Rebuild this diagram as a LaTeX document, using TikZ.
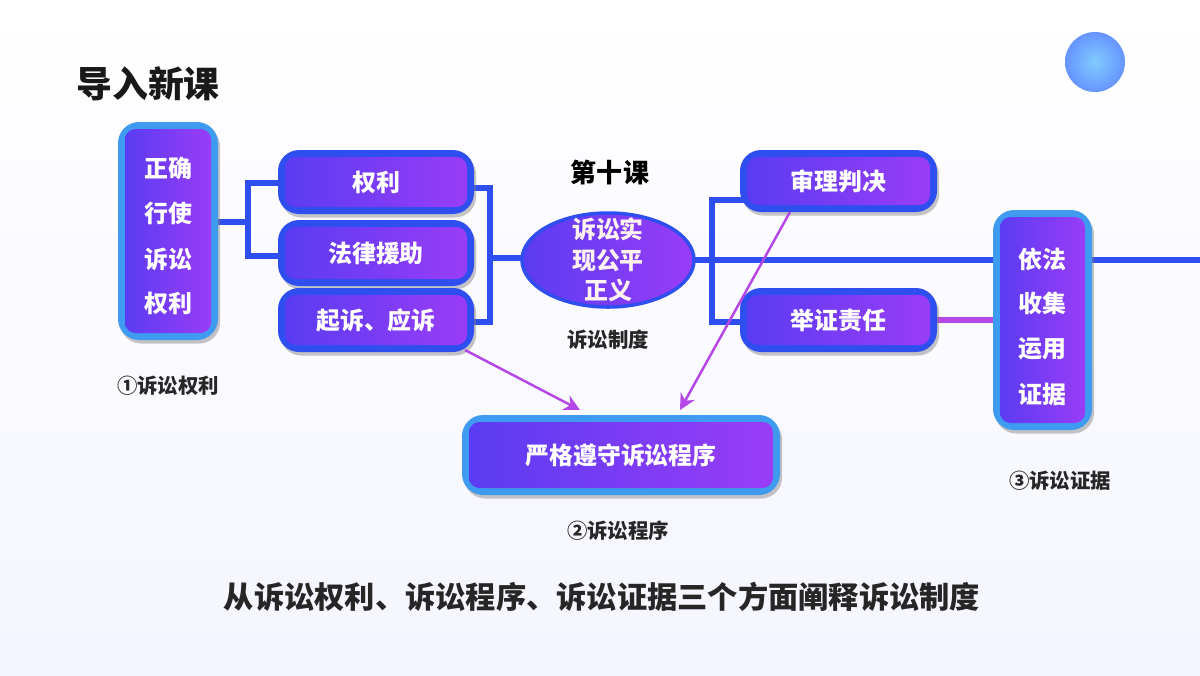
\documentclass[tikz,border=0pt]{standalone}
\usepackage{fontspec}
\setmainfont{Noto Sans CJK SC}
\usetikzlibrary{shadows,arrows.meta,calc}
\definecolor{pA}{HTML}{5A3CF2}
\definecolor{pB}{HTML}{9A3CF6}
\definecolor{bdr}{HTML}{2F4EEF}
\definecolor{lbdr}{HTML}{3F9BF0}
\definecolor{mag}{HTML}{B447E6}
\tikzset{
 outer/.style={rounded corners=6pt, fill=#1, drop shadow={shadow xshift=0.6pt,shadow yshift=-1pt,opacity=0.45}},
 inner/.style={rounded corners=3pt, left color=pA, right color=pB},
 txt/.style={text=white, font=\fontsize{6.8}{7.5}\selectfont\bfseries, align=center},
 lab/.style={font=\fontsize{5.8}{6.5}\selectfont\bfseries, text=black!85},
 conn/.style={draw=bdr, line width=1.5pt},
 arr/.style={draw=mag, line width=0.7pt, -{Stealth[length=4.5pt,width=4.5pt]}}
}
\newcommand{\mybox}[6]{% name, x1,y1,x2,y2, border color
 \fill[outer=#6] (#2,#3) rectangle (#4,#5);
 \path[inner] ($(#2,#3)+(7,7)$) rectangle ($(#4,#5)+(-7,-7)$);
 \coordinate (#1) at ($(#2,#3)!0.5!(#4,#5)$);
}
\begin{document}
\begin{tikzpicture}[x=0.01cm,y=-0.01cm]
\shade[top color=white, bottom color=blue!4] (0,0) rectangle (1200,675);
\useasboundingbox (0,0) rectangle (1200,675);
\shade[inner color=blue!40!cyan!50, outer color=blue!70!cyan!60] (1095,62) circle (30);
\node[font=\fontsize{10.2}{11}\selectfont\bfseries, text=black!90] (title) at (148,84) {导入新课};
% connectors (behind boxes)
\draw[conn] (210,222) -- (248,222);
\draw[conn] (290,183) -| (248,256) -- (290,256);
\draw[conn] (460,188) -| (490,322) -- (460,322);
\draw[conn] (490,258) -- (530,258);
\draw[conn] (690,260) -- (1200,260);
\draw[conn] (750,200) -| (712,322) -- (750,322);
\draw[draw=mag, line width=1.5pt] (930,320) -- (1000,320);
% left tall box
\mybox{L}{118}{122}{218}{340}{lbdr}
\node[txt] at (168,168) {正确};
\node[txt] at (168,213) {行使};
\node[txt] at (168,259) {诉讼};
\node[txt] at (168,303) {权利};
% middle boxes
\mybox{b1}{278}{150}{474}{214}{bdr}
\node[txt] (t1) at (b1) {权利};
\mybox{b2}{278}{220}{474}{286}{bdr}
\node[txt] (t2) at (b2) {法律援助};
\mybox{b3}{278}{288}{474}{352}{bdr}
\node[txt] (t3) at (b3) {起诉、应诉};
% ellipse
\fill[left color=pA, right color=pB, draw=bdr, line width=1pt] (608,260) ellipse (86 and 47);
\node[txt, text=pink!20!white, font=\fontsize{6.8}{8.6}\selectfont\bfseries] (E) at (608,260) {诉讼实\\现公平\\正义};
\node[font=\fontsize{7.4}{8}\selectfont\bfseries] (tenth) at (610,172) {第十课};
\node[lab] (zd) at (608,340) {诉讼制度};
% right boxes
\mybox{r1}{740}{150}{937}{212}{bdr}
\node[txt] (s1) at (r1) {审理判决};
\mybox{r2}{740}{288}{937}{352}{bdr}
\node[txt] (s2) at (r2) {举证责任};
\mybox{R}{993}{210}{1092}{430}{lbdr}
\node[txt] at (1042,259) {依法};
\node[txt] at (1042,303) {收集};
\node[txt] at (1042,349) {运用};
\node[txt] at (1042,394) {证据};
% bottom box
\mybox{B}{462}{415}{780}{495}{lbdr}
\node[txt] (bt) at (B) {严格遵守诉讼程序};
\coordinate (a1s) at (465,350); \coordinate (a1e) at (580,410);
\coordinate (a2s) at (790,212); \coordinate (a2e) at (680,410);
\draw[arr] (a1s) -- (a1e);
\draw[arr] (a2s) -- (a2e);
% labels
\node[lab] (l1) at (168,386) {①诉讼权利};
\node[lab] (l2) at (618,531) {②诉讼程序};
\node[lab] (l3) at (1060,481) {③诉讼证据};
\node[font=\fontsize{8.6}{9}\selectfont\bfseries, text=black!85] (sum) at (602,597) {从诉讼权利、诉讼程序、诉讼证据三个方面阐释诉讼制度};
\end{tikzpicture}
\end{document}
